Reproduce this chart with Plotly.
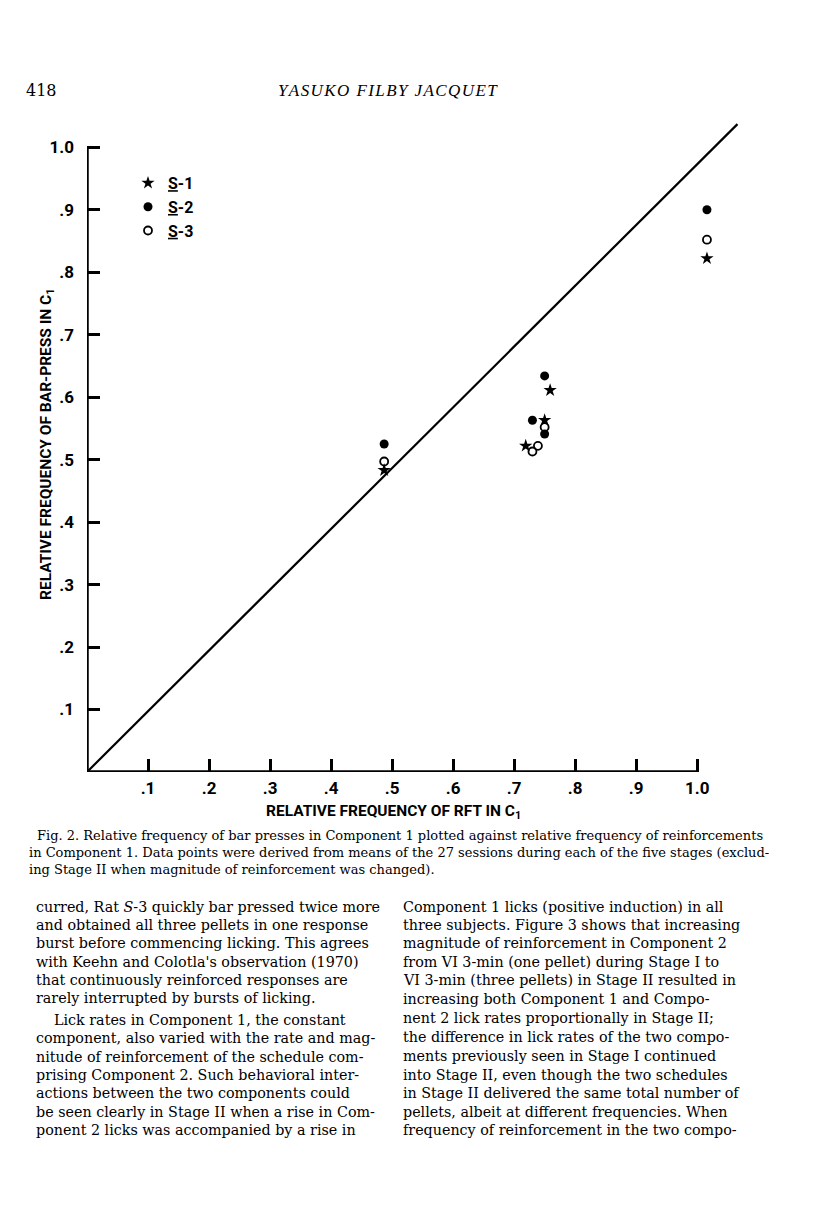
import plotly.graph_objects as go

# ---- data ----
tick_vals = [0.1, 0.2, 0.3, 0.4, 0.5, 0.6, 0.7, 0.8, 0.9, 1.0]
tick_text = [".1", ".2", ".3", ".4", ".5", ".6", ".7", ".8", ".9", "1.0"]

s1_x = [0.487, 0.759, 0.750, 0.719, 1.016]
s1_y = [0.483, 0.611, 0.563, 0.522, 0.822]
s2_x = [0.487, 0.750, 0.730, 0.750, 1.016]
s2_y = [0.525, 0.634, 0.563, 0.541, 0.900]
s3_x = [0.487, 0.750, 0.739, 0.730, 1.016]
s3_y = [0.497, 0.552, 0.522, 0.513, 0.852]

diag_x = [0.0, 1.066]
diag_y = [0.0, 1.037]

series_names = ["S-1", "S-2", "S-3"]

header_page = "418"
header_author = "YASUKO FILBY JACQUET"
x_title = "RELATIVE FREQUENCY OF RFT IN C<sub>1</sub>"
y_title = "RELATIVE FREQUENCY OF BAR-PRESS IN C<sub>1</sub>"

caption_lines = [
    "Fig. 2. Relative frequency of bar presses in Component 1 plotted against relative frequency of reinforcements",
    "in Component 1. Data points were derived from means of the 27 sessions during each of the five stages (exclud-",
    "ing Stage II when magnitude of reinforcement was changed).",
]

col1_lines = [
    "curred, Rat <i>S</i>-3 quickly bar pressed twice more",
    "and obtained all three pellets in one response",
    "burst before commencing licking. This agrees",
    "with Keehn and Colotla's observation (1970)",
    "that continuously reinforced responses are",
    "rarely interrupted by bursts of licking.",
    "Lick rates in Component 1, the constant",
    "component, also varied with the rate and mag-",
    "nitude of reinforcement of the schedule com-",
    "prising Component 2. Such behavioral inter-",
    "actions between the two components could",
    "be seen clearly in Stage II when a rise in Com-",
    "ponent 2 licks was accompanied by a rise in",
]
col2_lines = [
    "Component 1 licks (positive induction) in all",
    "three subjects. Figure 3 shows that increasing",
    "magnitude of reinforcement in Component 2",
    "from VI 3-min (one pellet) during Stage I to",
    "VI 3-min (three pellets) in Stage II resulted in",
    "increasing both Component 1 and Compo-",
    "nent 2 lick rates proportionally in Stage II;",
    "the difference in lick rates of the two compo-",
    "ments previously seen in Stage I continued",
    "into Stage II, even though the two schedules",
    "in Stage II delivered the same total number of",
    "pellets, albeit at different frequencies. When",
    "frequency of reinforcement in the two compo-",
]

# ---- layout constants (page body has an 8px margin) ----
OFF = 8
W, H = 808, 1199
L, R, T, B = 79, 70, 108, 435
XR = [0, 1.08]
YR = [0, 1.05]
SANS = "Roboto, Liberation Sans, sans-serif"
SERIF = "DejaVu Serif, Liberation Serif, serif"


def px_x(p):
    return (p - OFF - L) / (W - L - R)


def px_y(p):
    return (H - B - (p - OFF)) / (H - T - B)


fig = go.Figure()

fig.add_trace(go.Scatter(x=diag_x, y=diag_y, mode="lines",
                         line=dict(color="black", width=2.2),
                         showlegend=False, hoverinfo="skip"))

u = '<span style="text-decoration:underline">S</span>'
fig.add_trace(go.Scatter(x=s1_x, y=s1_y, mode="markers", name=u + "-1",
                         marker=dict(symbol="star", size=10, color="black",
                                     line=dict(width=0))))
fig.add_trace(go.Scatter(x=s2_x, y=s2_y, mode="markers", name=u + "-2",
                         marker=dict(symbol="circle", size=9, color="black",
                                     line=dict(width=0))))
fig.add_trace(go.Scatter(x=s3_x, y=s3_y, mode="markers", name=u + "-3",
                         marker=dict(symbol="circle-open", size=8, color="black",
                                     line=dict(width=1.8))))

# axis lines (span the labelled tick range)
fig.add_shape(type="line", xref="x", yref="y", x0=0, x1=0, y0=0, y1=max(tick_vals),
              line=dict(color="black", width=3.5))
fig.add_shape(type="line", xref="x", yref="y", x0=0, x1=max(tick_vals), y0=0, y1=0,
              line=dict(color="black", width=3.5))

axis_common = dict(
    tickvals=tick_vals, ticktext=tick_text, ticks="inside", ticklen=13,
    tickwidth=2.6, tickcolor="black", showgrid=False, zeroline=False,
    showline=False, tickfont=dict(family=SANS, size=17, color="black", weight="bold"),
)
fig.update_xaxes(range=XR, ticklabelstandoff=4, **axis_common)
fig.update_yaxes(range=YR, ticklabelstandoff=12, **axis_common)

ann = []
ann.append(dict(text=x_title, x=px_x(393), y=px_y(812), xref="paper", yref="paper",
                showarrow=False, xanchor="center", yanchor="middle",
                font=dict(family=SANS, size=15.5, color="black", weight="bold")))
ann.append(dict(text=y_title, x=px_x(47), y=px_y(445), xref="paper", yref="paper",
                showarrow=False, xanchor="center", yanchor="middle", textangle=-90,
                font=dict(family=SANS, size=15.5, color="black", weight="bold")))
ann.append(dict(text=header_page, x=px_x(24), y=px_y(90), xref="paper", yref="paper",
                showarrow=False, xanchor="left", yanchor="middle",
                font=dict(family=SERIF, size=16, color="black")))
ann.append(dict(text="<i>" + "\u200a".join(header_author) + "</i>", x=px_x(388), y=px_y(90),
                xref="paper", yref="paper", showarrow=False, xanchor="center", yanchor="middle",
                font=dict(family="Liberation Serif, serif", size=17, color="black")))

cap_y = [835, 852, 869]
cap_x = [35, 27, 27]
for t, yy, xx in zip(caption_lines, cap_y, cap_x):
    ann.append(dict(text=t, x=px_x(xx), y=px_y(yy), xref="paper", yref="paper",
                    showarrow=False, xanchor="left", yanchor="middle",
                    font=dict(family=SERIF, size=13, color="black")))

col1_y = [907, 925, 943, 962, 980, 998, 1020, 1038, 1057, 1075, 1093, 1112, 1130]
col2_y = [907, 925, 943, 962, 980, 999, 1018, 1037, 1056, 1075, 1093, 1112, 1130]
for i, (t, yy) in enumerate(zip(col1_lines, col1_y)):
    xx = 52 if i == 6 else 34
    ann.append(dict(text=t, x=px_x(xx), y=px_y(yy), xref="paper", yref="paper",
                    showarrow=False, xanchor="left", yanchor="middle",
                    font=dict(family=SERIF, size=14.3, color="black")))
for t, yy in zip(col2_lines, col2_y):
    ann.append(dict(text=t, x=px_x(401), y=px_y(yy), xref="paper", yref="paper",
                    showarrow=False, xanchor="left", yanchor="middle",
                    font=dict(family=SERIF, size=14.3, color="black")))

fig.update_layout(
    width=W, height=H,
    margin=dict(l=L, r=R, t=T, b=B, pad=0, autoexpand=False),
    paper_bgcolor="white", plot_bgcolor="white",
    annotations=ann,
    legend=dict(x=px_x(128), y=px_y(166), xanchor="left", yanchor="top",
                bgcolor="rgba(0,0,0,0)", itemwidth=30, tracegroupgap=0,
                font=dict(family=SANS, size=16, color="black", weight="bold")),
    showlegend=True,
)

fig.write_html("out.html")
